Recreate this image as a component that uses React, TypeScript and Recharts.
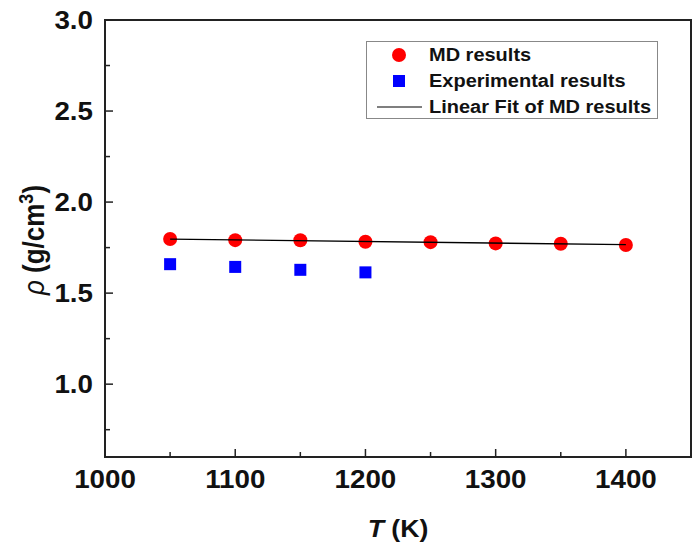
import React from 'react';
import { ScatterChart, Scatter, XAxis, YAxis, ReferenceArea } from 'recharts';

const mdT = [1050, 1100, 1150, 1200, 1250, 1300, 1350, 1400];
const mdRho = [1.797, 1.791, 1.790, 1.782, 1.780, 1.773, 1.771, 1.764];
const expT = [1050, 1100, 1150, 1200];
const expRho = [1.659, 1.644, 1.628, 1.614];
const fitT = [1050, 1400];
const fitRho = [1.797, 1.766];
const xTicks = [1000, 1050, 1100, 1150, 1200, 1250, 1300, 1350, 1400];
const yTicks = [0.75, 1.0, 1.25, 1.5, 1.75, 2.0, 2.25, 2.5, 2.75, 3.0];
const legendLabels = ['MD results', 'Experimental results', 'Linear Fit of MD results'];

const mdData = mdT.map((t, i) => ({ t, rho: mdRho[i] }));
const expData = expT.map((t, i) => ({ t, rho: expRho[i] }));
const fitData = fitT.map((t, i) => ({ t, rho: fitRho[i] }));

const FONT = 'Arial, "Liberation Sans", sans-serif';
const AX = '#222';

const XTick = (props: any) => {
  const { x, y, payload } = props;
  const v = payload.value;
  const major = v % 100 === 0;
  return (
    <g>
      <line x1={x} x2={x} y1={y} y2={y - (major ? 8 : 5)} stroke={AX} strokeWidth={1.5} />
      {major && (
        <text
          transform={`translate(${x},${y + 31}) scale(1.11,1)`}
          textAnchor="middle"
          fontFamily={FONT}
          fontWeight="bold"
          fontSize={25}
          fill="#111"
        >
          {v}
        </text>
      )}
    </g>
  );
};

const YTick = (props: any) => {
  const { x, y, payload } = props;
  const v = payload.value;
  const major = Math.abs(v * 2 - Math.round(v * 2)) < 1e-6;
  return (
    <g>
      <line x1={x} x2={x + (major ? 8 : 5)} y1={y} y2={y} stroke={AX} strokeWidth={1.5} />
      {major && (
        <text
          transform={`translate(${x - 12},${y + 9}) scale(1.11,1)`}
          textAnchor="end"
          fontFamily={FONT}
          fontWeight="bold"
          fontSize={25}
          fill="#111"
        >
          {v.toFixed(1)}
        </text>
      )}
    </g>
  );
};

const Circle = (props: any) => {
  const { cx, cy } = props;
  return <circle cx={cx} cy={cy} r={7} fill="#ff0000" />;
};
const Square = (props: any) => {
  const { cx, cy } = props;
  return <rect x={cx - 6} y={cy - 6} width={12} height={12} fill="#0000ff" />;
};
const Nothing = () => <g />;

const LegendBox = () => (
  <div
    style={{
      position: 'absolute',
      left: 366,
      top: 41,
      width: 292,
      height: 78,
      border: '1px solid #888',
      boxSizing: 'border-box',
      background: '#fff',
      fontFamily: FONT,
      fontWeight: 'bold',
      fontSize: 18,
      color: '#111',
    }}
  >
    {legendLabels.map((lab, i) => (
      <div key={lab} style={{ position: 'absolute', left: 0, top: i * 26, height: 26, width: 290 }}>
        <svg width={60} height={26} style={{ position: 'absolute', left: 0, top: 0 }}>
          {i === 0 && <circle cx={32} cy={13} r={7} fill="#ff0000" />}
          {i === 1 && <rect x={26} y={7} width={12} height={12} fill="#0000ff" />}
          {i === 2 && <line x1={10} x2={55} y1={13} y2={13} stroke="#000" strokeWidth={1.2} />}
        </svg>
        <span
          style={{
            position: 'absolute',
            left: 62,
            top: 2,
            lineHeight: '22px',
            whiteSpace: 'nowrap',
            transform: 'scaleX(1.11)',
            transformOrigin: 'left center',
          }}
        >
          {lab}
        </span>
      </div>
    ))}
  </div>
);

export default function App() {
  return (
    <div style={{ position: 'absolute', left: 0, top: 0, width: 696, height: 543, background: '#fff' }}>
      <ScatterChart width={696} height={543} margin={{ top: 20, right: 5, bottom: 0, left: 0 }}>
        <XAxis
          dataKey="t"
          type="number"
          domain={[1000, 1450]}
          ticks={xTicks}
          interval={0}
          height={86}
          tickSize={0}
          tickMargin={0}
          tick={<XTick />}
          tickLine={false}
          axisLine={{ stroke: AX, strokeWidth: 2 }}
          allowDataOverflow
          label={{
            content: () => (
              <text
                transform={`translate(398,537) scale(1.11,1)`}
                textAnchor="middle"
                fontFamily={FONT}
                fontWeight="bold"
                fontSize={24}
                fill="#111"
              >
                <tspan fontStyle="italic">T</tspan>
                <tspan> (K)</tspan>
              </text>
            ),
          }}
        />
        <YAxis
          dataKey="rho"
          type="number"
          domain={[0.6, 3.0]}
          ticks={yTicks}
          interval={0}
          width={105}
          tickSize={0}
          tickMargin={0}
          tick={<YTick />}
          tickLine={false}
          axisLine={{ stroke: AX, strokeWidth: 2 }}
          allowDataOverflow
          label={{
            content: () => (
              <text
                transform={`translate(44,240) rotate(-90) scale(1,1.11)`}
                textAnchor="middle"
                fontFamily={FONT}
                fontWeight="bold"
                fontSize={26}
                fill="#111"
              >
                <tspan fontStyle="italic" fontWeight="normal">ρ</tspan>
                <tspan> (g/cm</tspan>
                <tspan fontSize={18} dy={-10}>3</tspan>
                <tspan dy={10}>)</tspan>
              </text>
            ),
          }}
        />
        <ReferenceArea
          x1={1000}
          x2={1450}
          y1={0.6}
          y2={3.0}
          fill="none"
          stroke={AX}
          strokeWidth={2}
          ifOverflow="visible"
        />
        <Scatter name="MD results" data={mdData} shape={<Circle />} isAnimationActive={false} />
        <Scatter name="Experimental results" data={expData} shape={<Square />} isAnimationActive={false} />
        <Scatter
          name="Linear Fit of MD results"
          data={fitData}
          shape={<Nothing />}
          line={{ stroke: '#000', strokeWidth: 1.3 }}
          isAnimationActive={false}
        />
      </ScatterChart>
      <LegendBox />
    </div>
  );
}
